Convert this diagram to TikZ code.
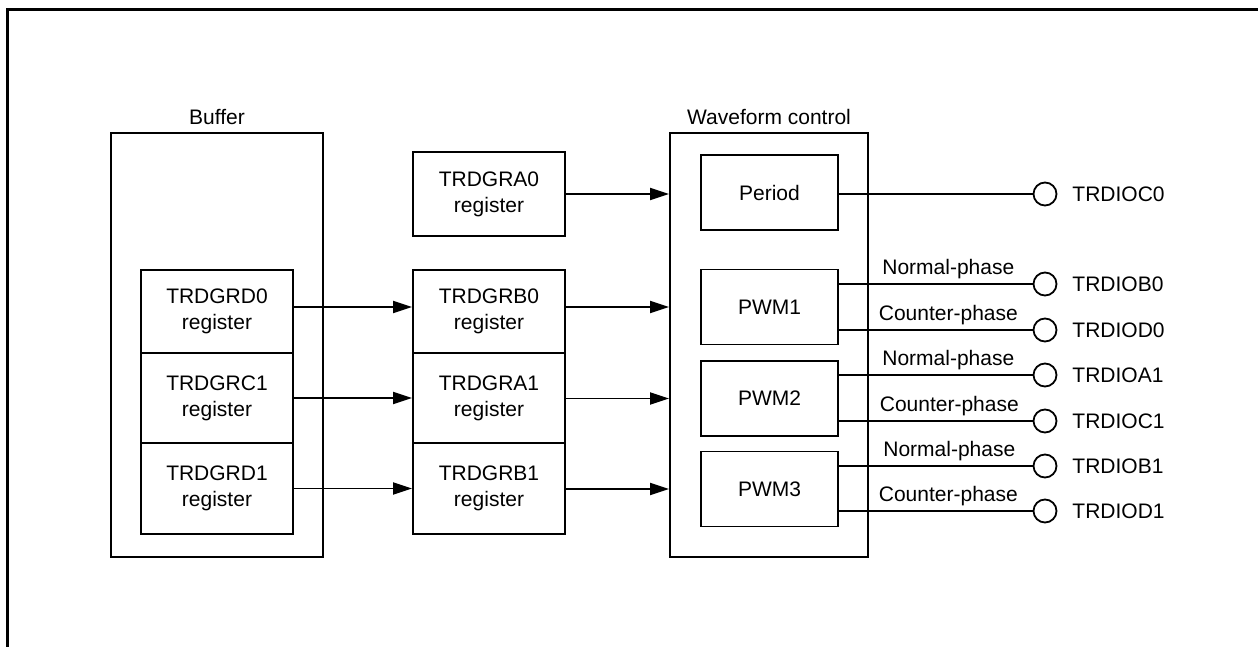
\documentclass[tikz,border=0pt]{standalone}
\usepackage{fontspec}
\setmainfont{Liberation Sans}
\usetikzlibrary{arrows.meta}

\begin{document}
\begin{tikzpicture}[
    x=0.5pt, y=-0.5pt,
    font=\fontsize{10.5}{13}\selectfont,
    box/.style={draw, line width=0.9pt, align=center, inner sep=0pt},
    regbox/.style={box, minimum width=76pt},
    wavebox/.style={box, minimum width=68.5pt, minimum height=37.5pt},
    groupbox/.style={box, minimum height=212pt},
    pin/.style={draw, line width=0.9pt, circle, minimum size=11.5pt, inner sep=0pt},
    arrow/.style={-{Triangle[length=9.5pt, width=6pt]}, line width=0.9pt},
    wire/.style={line width=0.9pt},
    phase/.style={above, inner sep=2pt},
    frame/.style={line width=1.5pt}
]
    \useasboundingbox (0,0) rectangle (1258,647);
    \draw[frame] (7.7,647) -- (7.7,9.5) -- (1258,9.5);

    % buffer side
    \node[groupbox, minimum width=106pt, label={above:Buffer}] (buf) at (217,345) {};
    \node[regbox, minimum height=41.5pt] (rd0) at (217,311.5) {TRDGRD0\\register};
    \node[regbox, minimum height=45pt] (rc1) at (217,398) {TRDGRC1\\register};
    \node[regbox, minimum height=45.5pt] (rd1) at (217,488.5) {TRDGRD1\\register};

    % general registers
    \node[regbox, minimum height=42pt] (ra0) at (489,194) {TRDGRA0\\register};
    \node[regbox, minimum height=41.5pt] (rb0) at (489,311.5) {TRDGRB0\\register};
    \node[regbox, minimum height=45pt] (ra1) at (489,398) {TRDGRA1\\register};
    \node[regbox, minimum height=45.5pt] (rb1) at (489,488.5) {TRDGRB1\\register};

    % waveform control
    \node[groupbox, minimum width=99pt, label={above:Waveform control}] (wave) at (769,345) {};
    \node[wavebox] (period) at (769.5,192.5) {Period};
    \node[wavebox] (pwm1) at (769.5,307) {PWM1};
    \node[wavebox] (pwm2) at (769.5,398.5) {PWM2};
    \node[wavebox] (pwm3) at (769.5,489) {PWM3};

    % output pins
    \node[pin, label={[label distance=4pt]right:TRDIOC0}] (pinC0) at (1045,194) {};
    \node[pin, label={[label distance=4pt]right:TRDIOB0}] (pinB0) at (1045,284) {};
    \node[pin, label={[label distance=4pt]right:TRDIOD0}] (pinD0) at (1045,330) {};
    \node[pin, label={[label distance=4pt]right:TRDIOA1}] (pinA1) at (1045,375) {};
    \node[pin, label={[label distance=4pt]right:TRDIOC1}] (pinC1) at (1045,421) {};
    \node[pin, label={[label distance=4pt]right:TRDIOB1}] (pinB1) at (1045,466) {};
    \node[pin, label={[label distance=4pt]right:TRDIOD1}] (pinD1) at (1045,511) {};

    % transfers
    \draw[arrow] (ra0) -- (wave.west |- ra0);
    \draw[arrow] (rd0.east |- pwm1) -- (rb0.west |- pwm1);
    \draw[arrow] (rb0.east |- pwm1) -- (wave.west |- pwm1);
    \draw[arrow] (rc1) -- (ra1);
    \draw[arrow] (ra1.east |- pwm2) -- (wave.west |- pwm2);
    \draw[arrow] (rd1) -- (rb1);
    \draw[arrow] (rb1.east |- pwm3) -- (wave.west |- pwm3);

    % outputs
    \draw[wire] (period.east |- pinC0) -- (pinC0);
    \draw[wire] (pwm1.east |- pinB0) -- node[phase, pos=0.565] {Normal-phase} (pinB0);
    \draw[wire] (pwm1.east |- pinD0) -- node[phase, pos=0.565] {Counter-phase} (pinD0);
    \draw[wire] (pwm2.east |- pinA1) -- node[phase, pos=0.565] {Normal-phase} (pinA1);
    \draw[wire] (pwm2.east |- pinC1) -- node[phase, pos=0.57] {Counter-phase} (pinC1);
    \draw[wire] (pwm3.east |- pinB1) -- node[phase, pos=0.57] {Normal-phase} (pinB1);
    \draw[wire] (pwm3.east |- pinD1) -- node[phase, pos=0.565] {Counter-phase} (pinD1);
\end{tikzpicture}
\end{document}
